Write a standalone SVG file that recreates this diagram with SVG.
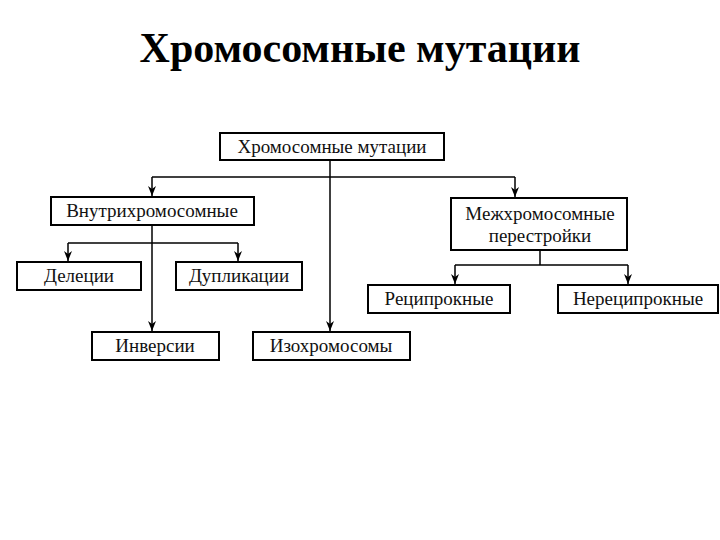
<svg xmlns="http://www.w3.org/2000/svg" width="720" height="540" viewBox="0 0 720 540">
<style>
.b{fill:#fff;stroke:#000;stroke-width:2}
.t{font-family:"Liberation Serif",serif;font-size:19px;text-anchor:middle;fill:#111}
.c{fill:none;stroke:#000;stroke-width:1.5}
</style>
<defs>
<marker id="d" markerWidth="8" markerHeight="10" refX="4" refY="10" orient="0" markerUnits="userSpaceOnUse" viewBox="0 0 8 10"><path d="M0 0 L4 3 L8 0 L4 10Z" fill="#000"/></marker></defs>
<rect width="720" height="540" fill="#fff"/>
<text x="360" y="62" font-family="Liberation Serif,serif" font-size="42" font-weight="bold" text-anchor="middle">Хромосомные мутации</text>
<g id="connectors">
<path class="c" d="M330 160 V331" marker-end="url(#d)"/>
<path class="c" d="M152 177 H515"/>
<path class="c" d="M152 177 V196" marker-end="url(#d)"/>
<path class="c" d="M515 177 V197" marker-end="url(#d)"/>
<path class="c" d="M152 225 V331" marker-end="url(#d)"/>
<path class="c" d="M68 243 H238"/>
<path class="c" d="M68 243 V261" marker-end="url(#d)"/>
<path class="c" d="M238 243 V261" marker-end="url(#d)"/>
<path class="c" d="M540 250 V265 M455 265 H628"/>
<path class="c" d="M455 265 V284" marker-end="url(#d)"/>
<path class="c" d="M628 265 V284" marker-end="url(#d)"/>
</g>
<g id="root"><rect class="b" x="220" y="133" width="224" height="27"/><text class="t" x="332" y="153">Хромосомные мутации</text></g>
<g id="intra"><rect class="b" x="51" y="197" width="203" height="28"/><text class="t" x="152" y="217">Внутрихромосомные</text></g>
<g id="inter"><rect class="b" x="451" y="198" width="176" height="52"/><text class="t" x="540" y="220">Межхромосомные</text><text class="t" x="540" y="242">перестройки</text></g>
<g id="del"><rect class="b" x="17" y="262" width="124" height="28"/><text class="t" x="79" y="282">Делеции</text></g>
<g id="dup"><rect class="b" x="176" y="262" width="126" height="28"/><text class="t" x="239" y="282">Дупликации</text></g>
<g id="inv"><rect class="b" x="92" y="332" width="127" height="28"/><text class="t" x="155" y="352">Инверсии</text></g>
<g id="iso"><rect class="b" x="253" y="332" width="157" height="28"/><text class="t" x="331" y="352">Изохромосомы</text></g>
<g id="rec"><rect class="b" x="368" y="285" width="142" height="28"/><text class="t" x="439" y="305">Реципрокные</text></g>
<g id="nrec"><rect class="b" x="558" y="285" width="160" height="28"/><text class="t" x="638" y="305">Нереципрокные</text></g>
</svg>
